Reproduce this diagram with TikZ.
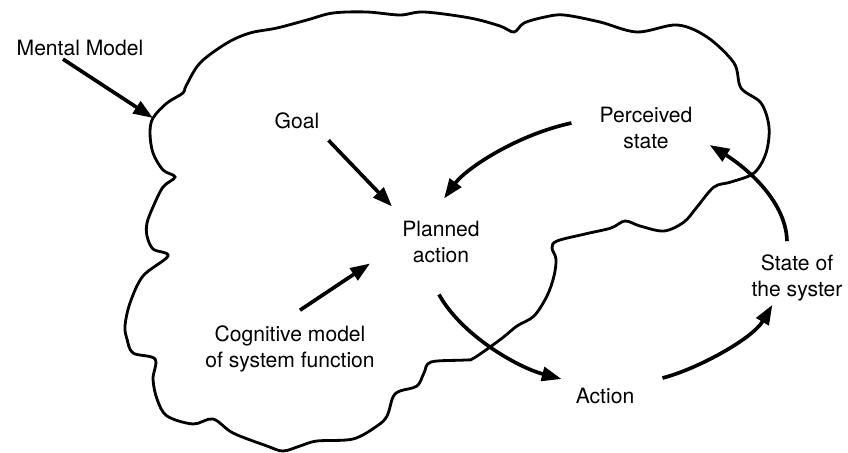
\documentclass[tikz,border=0pt]{standalone}
\usepackage{fontspec}
\setmainfont{TeX Gyre Heros}
\usetikzlibrary{arrows.meta}

\begin{document}
\begin{tikzpicture}[x=0.025cm, y=-0.025cm,
    lbl/.style={inner sep=0pt, align=center, font=\fontsize{15}{19}\selectfont},
    arr/.style={line width=2.6pt, -{Triangle[length=14pt, width=10pt]}}]
    \useasboundingbox (0, 0) rectangle (848, 453);

    \draw[line width=2pt] plot[smooth cycle, tension=0.55] coordinates {
        (153,118) (167,103) (183,93) (186,86) (200,63) (227,43) (250,33) (277,28)
        (307,20) (333,13) (367,12) (400,15) (424,12) (470,18) (500,26) (514,32)
        (524,23) (545,17) (564,15) (600,22) (637,32) (677,25) (707,37) (734,63)
        (741,88) (761,103) (769,127) (766,153) (754,173) (731,182) (714,187)
        (697,207) (684,222) (664,231) (640,226) (625,221) (611,228) (585,234)
        (557,241) (552,248) (556,259) (554,276) (547,296) (534,316) (517,326)
        (501,339) (474,358) (465,360) (431,362) (424,373) (417,386) (400,391)
        (393,397) (387,416) (377,426) (353,439) (317,441) (300,446) (283,451)
        (267,446) (233,433) (213,419) (193,424) (167,416) (157,399) (153,379)
        (155,359) (133,353) (127,339) (125,326) (130,303) (143,276) (168,256)
        (153,249) (147,236) (147,223) (153,207) (163,187) (175,177) (163,170)
        (153,153) (150,133)};

    \node[lbl] (mental) at (80, 48) {Mental Model};
    \node[lbl] (goal) at (297, 121) {Goal};
    \node[lbl] (perceived) at (646, 128) {Perceived\\state};
    \node[lbl] (planned) at (441, 242) {Planned\\action};
    \node[lbl] (cog) at (290, 349) {Cognitive model\\of system function};
    \node[lbl] (action) at (605, 396) {Action};
    \node[lbl] (state) at (797, 278) {State of\\the syster};
    \coordinate (mmtip) at (153, 118);

    \draw[arr] ([shift={(-17,3)}]mental.south) -- (mmtip);
    \draw[arr] ([shift={(9,11)}]goal.south east) -- ([shift={(-10,-14)}]planned.north west);
    \draw[arr] ([shift={(10,-15)}]cog.north) -- ([shift={(-32,0)}]planned.south west);

    \draw[arr] ([shift={(-28,-5)}]perceived.west) .. controls +(-55,12) and +(22,-30) .. ([shift={(3,-22)}]planned.north);
    \draw[arr] ([shift={(-2,31)}]planned.south) .. controls +(22,40) and +(-45,-12) .. ([shift={(-14,-17)}]action.west);
    \draw[arr] ([shift={(28,-18)}]action.east) .. controls +(35,-9) and +(-20,34) .. ([shift={(21,3)}]state.south west);
    \draw[arr] ([shift={(-10,-13)}]state.north) .. controls +(-1,-43) and +(31,19) .. ([shift={(17,17)}]perceived.east);

\end{tikzpicture}
\end{document}
